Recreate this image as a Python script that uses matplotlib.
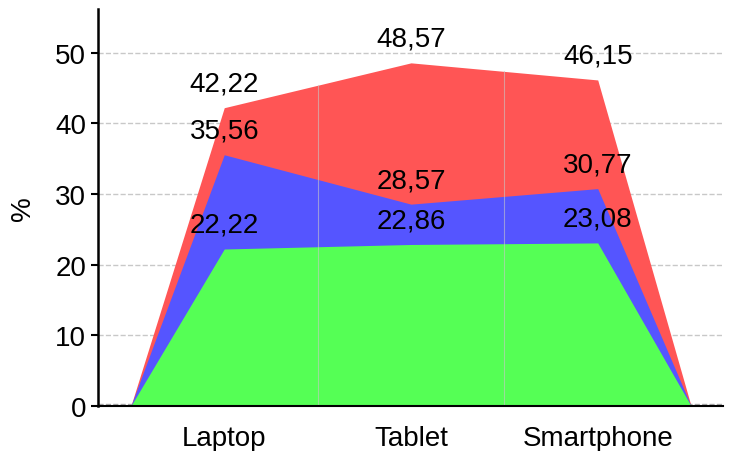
import matplotlib.pyplot as plt

plt.rcParams['font.family'] = ['Liberation Sans', 'DejaVu Sans']

categories = ['Laptop', 'Tablet', 'Smartphone']
red_vals = [42.22, 48.57, 46.15]
blue_vals = [35.56, 28.57, 30.77]
green_vals = [22.22, 22.86, 23.08]

fig = plt.figure(figsize=(7.33, 4.52), dpi=100)
ax = fig.add_axes([0.1337, 0.0996, 0.8527, 0.8784])

xs = [-0.5] + list(range(len(categories))) + [len(categories) - 0.5]
for vals, col in [(red_vals, '#FF5555'), (blue_vals, '#5555FF'), (green_vals, '#55FF55')]:
    ys = [0] + vals + [0]
    ax.fill_between(xs, ys, 0, color=col, linewidth=0, zorder=2)

# faint seams between category segments
for xb, top in [(0.5, (red_vals[0] + red_vals[1]) / 2), (1.5, (red_vals[1] + red_vals[2]) / 2)]:
    ax.plot([xb, xb], [0, top], color='#c8c8c8', alpha=0.6, lw=0.8, zorder=3)

for vals in [red_vals, blue_vals, green_vals]:
    for i, v in enumerate(vals):
        ax.annotate(f'{v:.2f}'.replace('.', ','), (i, v), xytext=(0, 8),
                    textcoords='offset points', ha='center', va='bottom',
                    fontsize=20, zorder=5)

ax.set_xlim(-0.676, 2.671)
ax.set_ylim(0, 56.2)
ax.set_yticks([0, 10, 20, 30, 40, 50])
ax.set_xticks(range(len(categories)))
ax.set_xticklabels(categories)
ax.tick_params(axis='x', length=0, labelsize=20, pad=14)
ax.tick_params(axis='y', length=5, width=1.5, labelsize=20, direction='out')
ax.set_ylabel('%', fontsize=20, labelpad=14)
ax.yaxis.grid(True, linestyle='--', color='#c8c8c8', lw=1, zorder=1)
ax.axhline(0.3, color='#aaaaaa', ls='--', lw=1, zorder=1.5)
ax.set_axisbelow(True)
for s in ['top', 'right']:
    ax.spines[s].set_visible(False)
ax.spines['left'].set_linewidth(1.8)
ax.spines['bottom'].set_linewidth(1.5)
ax.spines['bottom'].set_zorder(5)

fig.savefig('out.png', dpi=100)
